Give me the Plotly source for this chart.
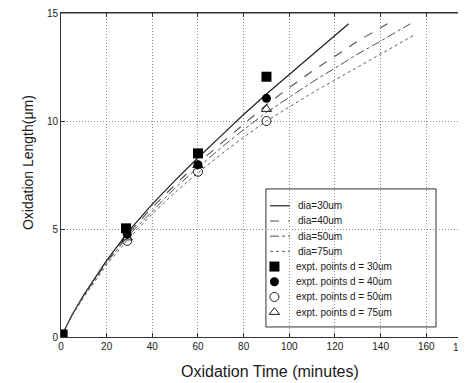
import plotly.graph_objects as go

# Model curves (oxidation length vs time) for each mesa diameter
t_30 = [0, 2, 5, 10, 20, 30, 40, 50, 60, 70, 80, 90, 100, 110, 120, 126]
L_30 = [0, 0.45, 1.05, 1.95, 3.55, 4.95, 6.15, 7.25, 8.3, 9.3, 10.3, 11.25, 12.15, 13.05, 13.95, 14.5]

t_40 = [0, 2, 5, 10, 20, 30, 40, 50, 60, 70, 80, 90, 100, 110, 120, 130, 143]
L_40 = [0, 0.45, 1.05, 1.95, 3.5, 4.85, 6.0, 7.05, 8.05, 8.95, 9.85, 10.75, 11.55, 12.3, 13.0, 13.7, 14.5]

t_50 = [0, 2, 5, 10, 20, 30, 40, 50, 60, 70, 80, 90, 100, 110, 120, 130, 140, 153]
L_50 = [0, 0.45, 1.05, 1.9, 3.45, 4.75, 5.85, 6.9, 7.85, 8.75, 9.6, 10.4, 11.1, 11.8, 12.45, 13.1, 13.7, 14.5]

t_75 = [0, 2, 5, 10, 20, 30, 40, 50, 60, 70, 80, 90, 100, 110, 120, 130, 140, 155]
L_75 = [0, 0.45, 1.0, 1.85, 3.35, 4.6, 5.7, 6.7, 7.6, 8.45, 9.25, 10.0, 10.65, 11.3, 11.9, 12.5, 13.1, 14.0]

# Experimental points
pt_30 = [0.7, 28.5, 60, 90]
pv_30 = [0.12, 5.03, 8.5, 12.05]
pt_40 = [29, 60, 90]
pv_40 = [4.75, 7.98, 11.05]
pt_50 = [29, 60, 90]
pv_50 = [4.45, 7.65, 10.0]
pt_75 = [29, 60, 90]
pv_75 = [4.6, 7.95, 10.55]

x_ticks = [0, 20, 40, 60, 80, 100, 120, 140, 160]
y_ticks = [0, 5, 10, 15]

legend_labels = ["dia=30um", "dia=40um", "dia=50um", "dia=75um",
                 "expt. points d = 30um", "expt. points d = 40um",
                 "expt. points d = 50um", "expt. points d = 75um"]

FONT = "Liberation Sans, Arial, sans-serif"
INK = "#1a1a1a"

line_styles = [dict(color="#1f1f1f", width=1.2, dash="solid"),
               dict(color="#505050", width=1.1, dash="dash"),
               dict(color="#505050", width=1.0, dash="dashdot"),
               dict(color="#606060", width=1.0, dash="dot")]
marker_styles = [dict(symbol="square", size=10, color="#000000"),
                 dict(symbol="circle", size=9, color="#000000"),
                 dict(symbol="circle-open", size=9, color=INK, line=dict(width=1, color=INK)),
                 dict(symbol="triangle-up-open", size=9, color=INK, line=dict(width=1, color=INK))]

fig = go.Figure()

curves = [(t_30, L_30), (t_40, L_40), (t_50, L_50), (t_75, L_75)]
for (tx, ly), st, nm in zip(curves, line_styles, legend_labels[:4]):
    fig.add_trace(go.Scatter(x=tx, y=ly, mode="lines", name=nm, line=st, showlegend=False))

points = [(pt_75, pv_75, 3), (pt_50, pv_50, 2), (pt_40, pv_40, 1), (pt_30, pv_30, 0)]
for px_, pv_, k in points:
    fig.add_trace(go.Scatter(x=px_, y=pv_, mode="markers", name=legend_labels[4 + k],
                             marker=marker_styles[k], showlegend=False))

# ---- hand-drawn legend box (MATLAB-style compact legend) ----
LX0, LX1 = 0.506, 0.926
LY_TOP, LY_BOT = 0.457, 0.031
ROW0, ROW_STEP = 0.405, 0.0469
SYM_X0, SYM_X1 = 0.516, 0.565
TXT_X = 0.580

fig.add_shape(type="rect", xref="paper", yref="paper", x0=LX0, x1=LX1, y0=LY_BOT, y1=LY_TOP,
              line=dict(color="#333333", width=1), fillcolor="white", layer="between")

for i in range(8):
    yy = ROW0 - i * ROW_STEP
    if i < 4:
        fig.add_shape(type="line", xref="paper", yref="paper", x0=SYM_X0, x1=SYM_X1, y0=yy, y1=yy,
                      line=line_styles[i], layer="above")
    fig.add_annotation(xref="paper", yref="paper", x=TXT_X - (0.004 if i >= 4 else 0), y=yy,
                       xanchor="left", yanchor="middle", text=legend_labels[i], showarrow=False,
                       font=dict(size=10, family=FONT, color=INK))

for k in range(4):
    yy = ROW0 - (4 + k) * ROW_STEP
    fig.add_trace(go.Scatter(x=[0.527], y=[yy], mode="markers", marker=marker_styles[k],
                             xaxis="x2", yaxis="y2", showlegend=False, hoverinfo="skip"))

# top frame line of the axes box
fig.add_shape(type="line", xref="paper", yref="paper", x0=0, x1=1, y0=1, y1=1,
              line=dict(color="#333333", width=1), layer="above")

axis_common = dict(showgrid=True, gridcolor="#8c8c8c", griddash="1px,2px", gridwidth=1,
                   showline=True, linecolor="#333333", linewidth=1,
                   ticks="inside", ticklen=4, tickcolor="#333333", zeroline=False,
                   ticklabeloverflow="allow",
                   tickfont=dict(size=10, family=FONT, color=INK))

# The page body has an 8px margin; shrink figure so the plot sits where the reference has it
fig.update_layout(
    width=458, height=375,
    margin=dict(l=53, r=0, t=5, b=46),
    paper_bgcolor="white", plot_bgcolor="white",
    font=dict(family=FONT, color=INK, size=10),
    showlegend=False,
    xaxis=dict(range=[0, 177.4], tickvals=x_ticks, ticktext=[str(v) for v in x_ticks],
               mirror="allticks", **axis_common),
    yaxis=dict(range=[0, 15], tickvals=y_ticks, ticktext=[str(v) for v in y_ticks],
               mirror=False, **axis_common),
    xaxis2=dict(overlaying="x", range=[0, 1], visible=False, fixedrange=True),
    yaxis2=dict(overlaying="y", range=[0, 1], visible=False, fixedrange=True),
)

# axis titles
fig.add_annotation(xref="paper", yref="paper", x=0.515, y=-0.105, yanchor="middle",
                   text="Oxidation Time (minutes)", showarrow=False,
                   font=dict(size=16, family=FONT, color=INK))
fig.add_annotation(xref="paper", yref="paper", x=-0.083, y=0.538, xanchor="center",
                   yanchor="middle", textangle=-90,
                   text="Oxidation Length(μm)", showarrow=False,
                   font=dict(size=14, family=FONT, color=INK))

# partially visible "180" tick label at the clipped right edge
fig.add_annotation(x=180 / 177.4, y=0, xref="paper", yref="paper", yanchor="top",
                   text="180", showarrow=False, yshift=-3,
                   font=dict(size=10, family=FONT, color=INK))

fig.write_html("out.html")
